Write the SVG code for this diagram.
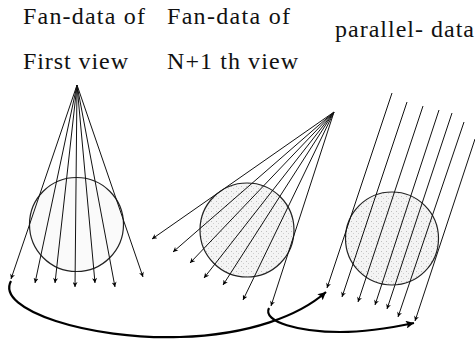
<svg xmlns="http://www.w3.org/2000/svg" width="475" height="343" viewBox="0 0 475 343">
<defs>
<marker id="ah" viewBox="0 0 10 10" refX="10" refY="5" markerWidth="6" markerHeight="5" markerUnits="userSpaceOnUse" orient="auto"><path d="M0,0 L10,5 L0,10 L3,5 z" fill="#000"/></marker>
<marker id="bh" viewBox="0 0 10 10" refX="10" refY="5" markerWidth="11" markerHeight="8" markerUnits="userSpaceOnUse" orient="auto"><path d="M0,0 L10,5 L0,10 L2,5 z" fill="#000"/></marker>
<pattern id="dots" width="5" height="5" patternUnits="userSpaceOnUse">
<rect width="5" height="5" fill="#f4f4f4"/>
<rect x="1" y="1" width="1" height="1" fill="#c0c0c0"/>
<rect x="3" y="3" width="1" height="1" fill="#d0d0d0"/>
</pattern>
</defs>
<style>
text{font-family:"Liberation Serif","Times New Roman","DejaVu Serif",serif;font-size:24px;fill:#111}
.circ{stroke:#222;stroke-width:1.2}
.ray{stroke:#111;stroke-width:1;fill:none;marker-end:url(#ah)}
.conn{stroke:#000;stroke-width:2.2;fill:none;marker-end:url(#bh)}
</style>
<g id="view1">
<text x="23" y="24" textLength="122">Fan-data of</text>
<text x="23" y="69" textLength="105">First view</text>
<circle class="circ" cx="76.5" cy="224.5" r="47" fill="#fafafa"/>
<path class="ray" d="M77,85 L11,279"/>
<path class="ray" d="M77,85 L35,283"/>
<path class="ray" d="M77,85 L55,283"/>
<path class="ray" d="M77,85 L75,287"/>
<path class="ray" d="M77,85 L95,283"/>
<path class="ray" d="M77,85 L115,287"/>
<path class="ray" d="M77,85 L143,277"/>
</g>
<g id="viewN1">
<text x="167" y="24" textLength="123">Fan-data of</text>
<text x="167" y="69" textLength="131">N+1 th view</text>
<circle class="circ" cx="247" cy="230" r="47" fill="url(#dots)"/>
<path class="ray" d="M334,112 L152,239"/>
<path class="ray" d="M334,112 L173,252"/>
<path class="ray" d="M334,112 L190,263"/>
<path class="ray" d="M334,112 L204,278"/>
<path class="ray" d="M334,112 L223,285"/>
<path class="ray" d="M334,112 L243,300"/>
<path class="ray" d="M334,112 L271,306"/>
</g>
<g id="parallel">
<text x="335" y="37" textLength="139">parallel- data</text>
<circle class="circ" cx="392" cy="238.5" r="46.5" fill="url(#dots)"/>
<path class="ray" d="M392,93 L327,288"/>
<path class="ray" d="M407,102 L342,297"/>
<path class="ray" d="M423,106 L358,302"/>
<path class="ray" d="M439,110 L375,305"/>
<path class="ray" d="M452,113 L387,309"/>
<path class="ray" d="M464,122 L398,317"/>
<path class="ray" d="M475,139 L415,321"/>
</g>
<g id="connectors">
<path class="conn" d="M11,281 C-5,310 90,340 180,337 C250,335 300,315 326,292"/>
<path class="conn" d="M269,308 C262,322 300,332 340,332 C370,332 395,327 414,323"/>
</g>
</svg>
